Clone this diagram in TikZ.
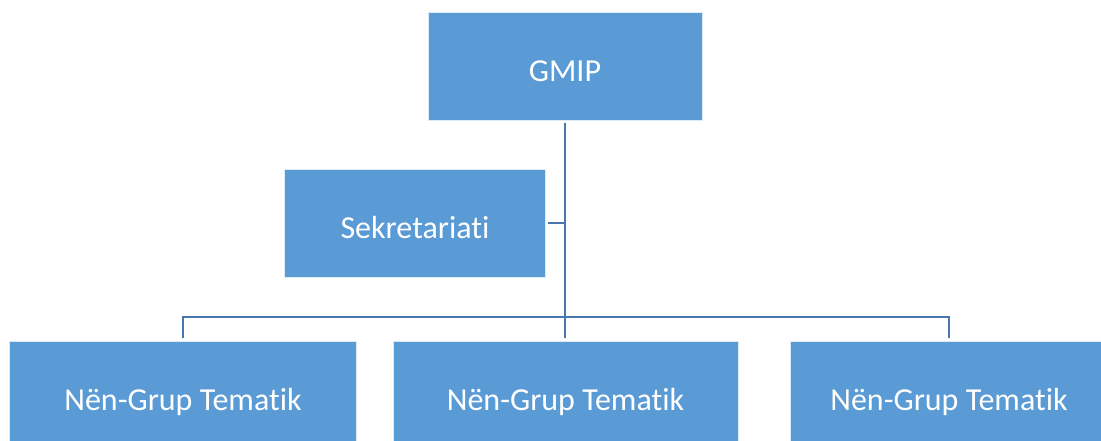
\documentclass[tikz,border=0pt]{standalone}
\usepackage{fontspec}
\setmainfont{Carlito}[Ligatures=NoCommon]
\definecolor{boxblue}{HTML}{5B9BD5}
\definecolor{lineblue}{HTML}{4777AD}
\tikzset{
    orgbox/.style={fill=boxblue, draw=white!80!boxblue, line width=0.6pt, text=white,
        font=\fontsize{24}{29}\selectfont, text height=23.5pt, text depth=0pt,
        minimum height=108*0.75pt, inner sep=0pt, outer sep=2.2pt},
    boxwidth/.style={minimum width=#1*0.75pt},
    link/.style={draw=lineblue, line width=2.1pt}
}
\begin{document}
\begin{tikzpicture}[x=0.75pt, y=-0.75pt]
    \useasboundingbox (0,0) rectangle (1101,441);
    \clip (0,0) rectangle (1101,441);

    % Boxes
    \node[orgbox, boxwidth=274] (gmip) at (565,66) {GMIP};
    \node[orgbox, boxwidth=261] (sek) at (415,223) {Sekretariati};
    \node[orgbox, boxwidth=347] (ng1) at (183,395) {Nën-Grup Tematik};
    \node[orgbox, boxwidth=345] (ng2) at (565.5,395) {Nën-Grup Tematik};
    \node[orgbox, boxwidth=318] (ng3) at (949,395) {Nën-Grup Tematik};

    % Connectors
    \coordinate (bar) at (565,317);
    \draw[link] (gmip.south) -- (gmip.south |- ng2.north);
    \draw[link] (sek.east) -- (sek.east -| gmip.south);
    \draw[link] (ng1.north) |- (bar) -| (ng3.north);
\end{tikzpicture}
\end{document}
